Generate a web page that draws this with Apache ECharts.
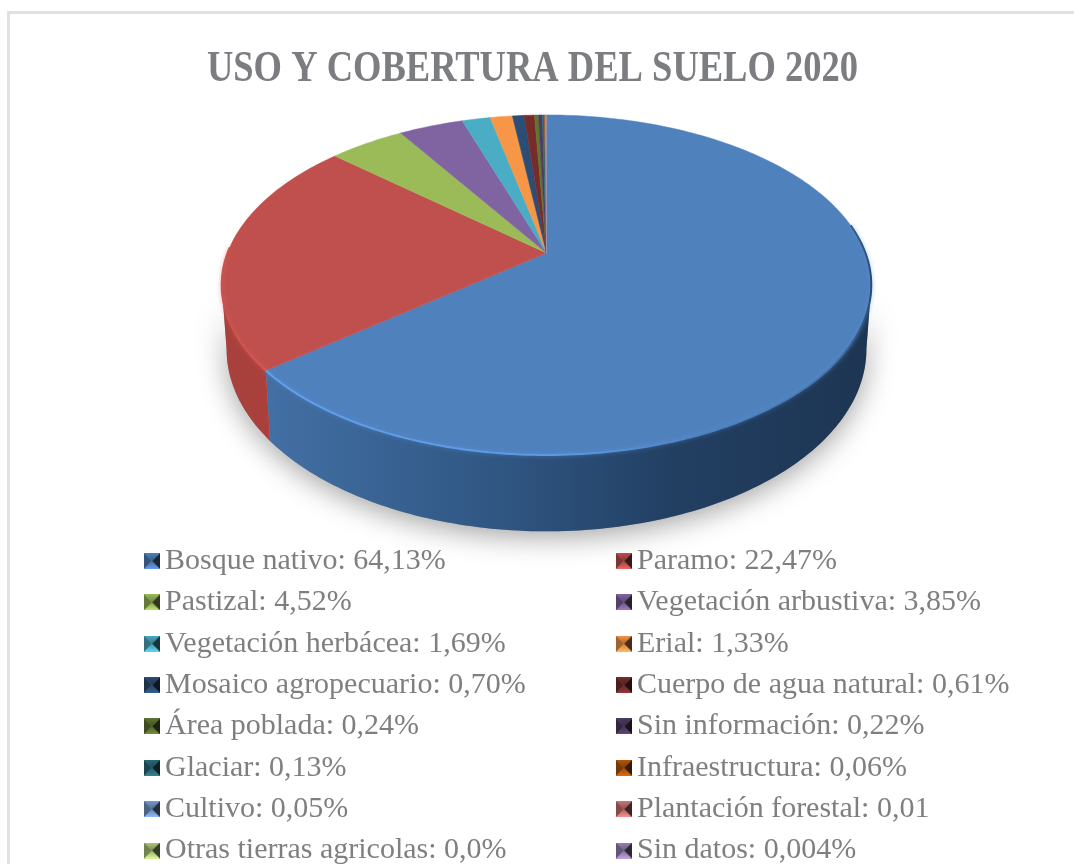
<!DOCTYPE html>
<html>
<head>
<meta charset="utf-8">
<title>Uso y cobertura del suelo 2020</title>
<style>
html,body{margin:0;padding:0;background:#fff;}
#main{width:1074px;height:864px;}
</style>
<script src="https://cdn.jsdelivr.net/npm/echarts@6/dist/echarts.min.js"></script>
</head>
<body>
<div id="main"></div>
<script>
var chartTitle = 'USO Y COBERTURA DEL SUELO 2020';
var categories = ['Bosque nativo','Paramo','Pastizal','Vegetación arbustiva','Vegetación herbácea','Erial','Mosaico agropecuario','Cuerpo de agua natural','Área poblada','Sin información','Glaciar','Infraestructura','Cultivo','Plantación forestal','Otras tierras agricolas','Sin datos'];
var values = [64.13,22.47,4.52,3.85,1.69,1.33,0.70,0.61,0.24,0.22,0.13,0.06,0.05,0.01,0.0,0.004];
var valueLabels = ['64,13%','22,47%','4,52%','3,85%','1,69%','1,33%','0,70%','0,61%','0,24%','0,22%','0,13%','0,06%','0,05%','0,01','0,0%','0,004%'];
var colors = ['#4f81bd','#c0504d','#9bbb59','#8064a2','#4bacc6','#f79646','#2c4d75','#772c2a','#5f7530','#4d3b62','#276a7c','#b65708','#729aca','#cd7371','#afc97a','#9983b5'];

// proyeccion del disco: el centro queda por encima del centro de la elipse
var cx = 546.5, cy = 253, kx = 319, ky = 164, persp = 0.188, depth = 62;
var total = values.reduce(function(a,b){return a+b;},0);

function project(deg, lower){
	var r = deg*Math.PI/180, u = Math.sin(r), v = Math.cos(r), w = 1+persp*v;
	if(lower){
		return [cx+u*kx*0.985/w, cy-v*ky/w+depth/w];
	}
	return [cx+u*kx/w, cy-v*ky/w];
}
function arc(a,b,lower){
	var pts = [], n = Math.max(2,Math.ceil(Math.abs(b-a)));
	for(var i=0;i<=n;i++){
		pts.push(project(a+(b-a)*i/n,lower));
	}
	return pts;
}
function startOf(idx){
	var s = 0;
	for(var i=0;i<idx;i++){ s += values[i]; }
	return s/total*360;
}
function hGrad(x0,x1,stops){
	return new echarts.graphic.LinearGradient(x0,0,x1,0,stops.map(function(s){
		return {offset:s[0],color:s[1]};
	}),true);
}

var wallGrad = {
	0: [[0,'#4674ab'],[0.4,'#315885'],[0.7,'#223f62'],[1,'#1d3552']],
	1: [[0,'#a8403c'],[1,'#bd4844']]
};
// brillo del borde, solo en el frente y el lado derecho
var rimRange = {0:[80,300], 1:[0,272]};
var rimGrad = {
	0: [[0,'#62a0ec'],[0.5,'#5c98e2'],[0.72,'#4f81bd'],[0.93,'#4a79b1'],[1,'#2c4d75']],
	1: [[0,'#c9524e'],[0.1,'#dc5a56'],[1,'#d85a56']]
};

function renderSlice(params, api){
	var idx = params.seriesIndex;
	var a = startOf(idx), b = a+api.value(0)/total*360;
	var color = colors[idx];
	var top = [[cx,cy]].concat(arc(a,b,false));
	var kids = [];
	// pared frontal, solo entre los puntos de silueta
	var wa = Math.max(a,100.8), wb = Math.min(b,259.2);
	if(wb>wa){
		var wall = arc(wa,wb,false).concat(arc(wa,wb,true).reverse());
		kids.push({
			type:'polygon', z2:0, shape:{points:wall},
			style:{fill:'#999',shadowBlur:28,shadowColor:'rgba(0,0,0,0.36)',shadowOffsetX:0,shadowOffsetY:6}
		});
		kids.push({
			type:'polygon', z2:1, shape:{points:wall},
			style:{fill:hGrad(222,871,wallGrad[idx]||[[0,color],[1,color]])}
		});
	}
	kids.push({
		type:'polygon', z2:2, shape:{points:top},
		style:{fill:color,stroke:color,lineWidth:0.5}
	});
	if(rimGrad[idx]){
		var ra = Math.max(a,rimRange[idx][0]), rb = Math.min(b,rimRange[idx][1]);
		var x0 = idx===0 ? 268 : 222, x1 = 871;
		var stroke = hGrad(x0,x1,rimGrad[idx]);
		kids.push({
			type:'polyline', z2:3, shape:{points:arc(ra,rb,false)},
			style:{fill:null,lineWidth:2,stroke:stroke,shadowBlur:4,shadowColor:idx===0?'rgba(90,150,225,0.6)':'rgba(220,90,86,0.6)'}
		});
	}
	return {type:'group',children:kids};
}

// icono biselado de la leyenda
function shade(hex,f){
	var n = parseInt(hex.slice(1),16);
	var c = [n>>16,(n>>8)&255,n&255].map(function(x){return Math.min(255,Math.round(x*f));});
	return 'rgb('+c.join(',')+')';
}
function swatch(hex){
	var s = 34, cv = document.createElement('canvas');
	cv.width = s; cv.height = s;
	var g = cv.getContext('2d');
	function tri(p,q,fill){
		g.fillStyle = fill; g.beginPath();
		g.moveTo(p[0],p[1]); g.lineTo(q[0],q[1]); g.lineTo(s/2,s/2); g.closePath(); g.fill();
	}
	var lg = g.createLinearGradient(0,0,0,s/2);
	lg.addColorStop(0,shade(hex,1.0)); lg.addColorStop(1,shade(hex,0.7));
	tri([0,0],[s,0],lg);
	lg = g.createLinearGradient(0,s/2,0,s);
	lg.addColorStop(0,shade(hex,0.85)); lg.addColorStop(1,shade(hex,1.25));
	tri([0,s],[s,s],lg);
	tri([0,0],[0,s],shade(hex,0.65));
	tri([s,0],[s,s],shade(hex,0.3));
	return 'image://'+cv.toDataURL();
}

var seriesNames = categories.map(function(c,i){return c+': '+valueLabels[i];});
var series = categories.map(function(c,i){
	return {
		type:'custom', name:seriesNames[i], coordinateSystem:'none', silent:true,
		itemStyle:{color:colors[i]}, renderItem:renderSlice, data:[[values[i]]], animation:false
	};
});
function legendColumn(left,rest){
	var items = [];
	seriesNames.forEach(function(n,i){
		if(i%2===rest){ items.push({name:n,icon:swatch(colors[i])}); }
	});
	return {
		orient:'vertical', left:left, top:544, height:400, selectedMode:false, data:items,
		itemWidth:16, itemHeight:16, itemGap:7.36, padding:0,
		textStyle:{fontFamily:'Liberation Serif',fontSize:30,color:'#7f7f7f',lineHeight:34}
	};
}

var myChart = echarts.init(document.getElementById('main'),null,{renderer:'canvas'});
myChart.setOption({
	animation:false,
	backgroundColor:'#fff',
	graphic:[{
		type:'rect', silent:true,
		shape:{x:8.5,y:12.5,width:1200,height:1000},
		style:{fill:null,stroke:'#e0e2e2',lineWidth:3}
	},{
		// el titulo original es mas estrecho que la fuente disponible
		type:'text', silent:true, x:532.5, y:70, scaleX:0.83,
		style:{text:chartTitle,textAlign:'center',textVerticalAlign:'middle',fontFamily:'Liberation Serif',fontWeight:'bold',fontSize:44,fill:'#7b7d80'}
	}],
	legend:[legendColumn(144,0),legendColumn(616,1)],
	series:series
});
</script>
</body>
</html>
